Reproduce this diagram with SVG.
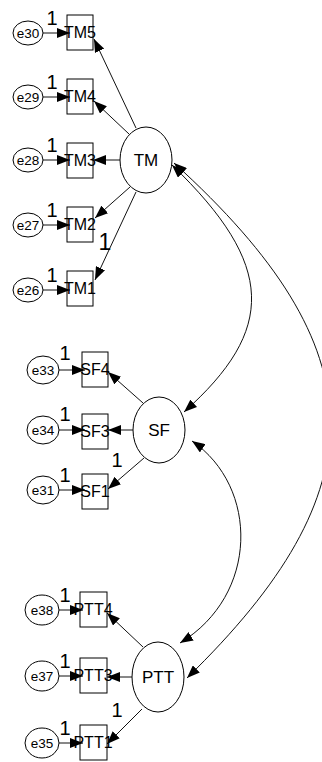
<svg xmlns="http://www.w3.org/2000/svg" width="322" height="762" viewBox="0 0 322 762">
  <style>
    .lat { fill: #fff; stroke: #000; stroke-width: 1; }
    .err { fill: #fff; stroke: #000; stroke-width: 1; }
    .box { fill: #fff; stroke: #000; stroke-width: 1; }
    .t { font-family: "Liberation Sans", Arial, sans-serif; fill: #000; text-anchor: middle; }
    .tl { font-size: 17px; }
    .ti { font-size: 16px; }
    .te { font-size: 13.5px; }
    .one { font-family: "Liberation Sans", Arial, sans-serif; font-size: 20px; fill: #000; text-anchor: middle; }
    .c { fill: none; stroke: #111; stroke-width: 1; }
  </style>
  <defs>
    <marker id="ah" viewBox="0 0 13 10" refX="13" refY="5" markerWidth="13" markerHeight="10" markerUnits="userSpaceOnUse" orient="auto-start-reverse">
      <path d="M0,0 L13,5 L0,10 z" fill="#000"/>
    </marker>
  </defs>
  <rect width="322" height="762" fill="#fff"/>

  <!-- TM block -->
  <g id="TM"><ellipse class="lat" cx="146" cy="160" rx="26" ry="33"/><text class="t tl" x="146" y="166">TM</text></g>
  <g id="TM5"><rect class="box" x="67" y="15" width="26" height="35"/><text class="t ti" x="80" y="38">TM5</text></g>
  <g id="TM4"><rect class="box" x="67" y="79" width="26" height="35"/><text class="t ti" x="80" y="102">TM4</text></g>
  <g id="TM3"><rect class="box" x="67" y="143" width="26" height="35"/><text class="t ti" x="80" y="166">TM3</text></g>
  <g id="TM2"><rect class="box" x="67" y="207" width="26" height="35"/><text class="t ti" x="80" y="230">TM2</text></g>
  <g id="TM1"><rect class="box" x="67" y="271" width="26" height="35"/><text class="t ti" x="80" y="294">TM1</text></g>
  <g id="e30"><ellipse class="err" cx="28" cy="33" rx="15" ry="12"/><text class="t te" x="28" y="38">e30</text></g>
  <g id="e29"><ellipse class="err" cx="28" cy="97" rx="15" ry="12"/><text class="t te" x="28" y="102">e29</text></g>
  <g id="e28"><ellipse class="err" cx="28" cy="160" rx="15" ry="12"/><text class="t te" x="28" y="165">e28</text></g>
  <g id="e27"><ellipse class="err" cx="28" cy="225" rx="15" ry="12"/><text class="t te" x="28" y="230">e27</text></g>
  <g id="e26"><ellipse class="err" cx="28" cy="290" rx="15" ry="12"/><text class="t te" x="28" y="295">e26</text></g>

  <!-- SF block -->
  <g id="SF"><ellipse class="lat" cx="159" cy="430" rx="26" ry="33"/><text class="t tl" x="159" y="436">SF</text></g>
  <g id="SF4"><rect class="box" x="82" y="352" width="26" height="35"/><text class="t ti" x="95" y="375">SF4</text></g>
  <g id="SF3"><rect class="box" x="82" y="414" width="26" height="35"/><text class="t ti" x="95" y="437">SF3</text></g>
  <g id="SF1"><rect class="box" x="82" y="474" width="26" height="35"/><text class="t ti" x="95" y="497">SF1</text></g>
  <g id="e33"><ellipse class="err" cx="43" cy="370" rx="16" ry="14"/><text class="t te" x="43" y="375">e33</text></g>
  <g id="e34"><ellipse class="err" cx="43" cy="430" rx="16" ry="14"/><text class="t te" x="43" y="435">e34</text></g>
  <g id="e31"><ellipse class="err" cx="43" cy="490" rx="16" ry="14"/><text class="t te" x="43" y="495">e31</text></g>

  <!-- PTT block -->
  <g id="PTT"><ellipse class="lat" cx="158" cy="677" rx="26" ry="35"/><text class="t tl" x="158" y="683">PTT</text></g>
  <g id="PTT4"><rect class="box" x="80" y="592" width="27" height="35"/><text class="t ti" x="93" y="615">PTT4</text></g>
  <g id="PTT3"><rect class="box" x="80" y="658" width="27" height="35"/><text class="t ti" x="93" y="681">PTT3</text></g>
  <g id="PTT1"><rect class="box" x="80" y="725" width="27" height="35"/><text class="t ti" x="93" y="748">PTT1</text></g>
  <g id="e38"><ellipse class="err" cx="42" cy="610" rx="17" ry="15"/><text class="t te" x="42" y="615">e38</text></g>
  <g id="e37"><ellipse class="err" cx="42" cy="676" rx="17" ry="15"/><text class="t te" x="42" y="681">e37</text></g>
  <g id="e35"><ellipse class="err" cx="42" cy="743" rx="17" ry="15"/><text class="t te" x="42" y="748">e35</text></g>

  <g id="connectors">
    <!-- error terms -->
    <line class="c" x1="43" y1="33" x2="70" y2="33" marker-end="url(#ah)"/>
    <line class="c" x1="43" y1="97" x2="70" y2="97" marker-end="url(#ah)"/>
    <line class="c" x1="43" y1="160" x2="70" y2="160" marker-end="url(#ah)"/>
    <line class="c" x1="43" y1="225" x2="70" y2="225" marker-end="url(#ah)"/>
    <line class="c" x1="43" y1="290" x2="70" y2="290" marker-end="url(#ah)"/>
    <line class="c" x1="59" y1="370" x2="85" y2="370" marker-end="url(#ah)"/>
    <line class="c" x1="59" y1="430" x2="85" y2="430" marker-end="url(#ah)"/>
    <line class="c" x1="59" y1="490" x2="85" y2="490" marker-end="url(#ah)"/>
    <line class="c" x1="59" y1="610" x2="83" y2="610" marker-end="url(#ah)"/>
    <line class="c" x1="59" y1="676" x2="83" y2="676" marker-end="url(#ah)"/>
    <line class="c" x1="59" y1="743" x2="83" y2="743" marker-end="url(#ah)"/>
    <!-- loadings -->
    <line class="c" x1="136" y1="128" x2="94" y2="39" marker-end="url(#ah)"/>
    <line class="c" x1="129" y1="134" x2="94" y2="101" marker-end="url(#ah)"/>
    <line class="c" x1="120" y1="160" x2="93" y2="160" marker-end="url(#ah)"/>
    <line class="c" x1="130" y1="187" x2="95" y2="218" marker-end="url(#ah)"/>
    <line class="c" x1="136" y1="192" x2="95" y2="280" marker-end="url(#ah)"/>
    <line class="c" x1="143" y1="403" x2="108" y2="372" marker-end="url(#ah)"/>
    <line class="c" x1="133" y1="430" x2="108" y2="430" marker-end="url(#ah)"/>
    <line class="c" x1="144" y1="458" x2="108" y2="489" marker-end="url(#ah)"/>
    <line class="c" x1="143" y1="647" x2="107" y2="613" marker-end="url(#ah)"/>
    <line class="c" x1="132" y1="677" x2="107" y2="677" marker-end="url(#ah)"/>
    <line class="c" x1="142" y1="709" x2="107" y2="744" marker-end="url(#ah)"/>
    <!-- covariances -->
    <path class="c" d="M172,165 C276,265 276,330 184,412" marker-start="url(#ah)" marker-end="url(#ah)"/>
    <path class="c" d="M174,163 C380,350 380,490 187,678" marker-start="url(#ah)" marker-end="url(#ah)"/>
    <path class="c" d="M192,441 C259,487 259,595 180,643" marker-start="url(#ah)" marker-end="url(#ah)"/>
  </g>

  <!-- fixed parameter labels -->
  <g id="labels">
    <text class="one" x="52" y="25">1</text>
    <text class="one" x="52" y="89">1</text>
    <text class="one" x="52" y="152">1</text>
    <text class="one" x="52" y="217">1</text>
    <text class="one" x="52" y="282">1</text>
    <text class="one" x="105" y="250" style="font-size:23px">1</text>
    <text class="one" x="65" y="360">1</text>
    <text class="one" x="65" y="421">1</text>
    <text class="one" x="65" y="482">1</text>
    <text class="one" x="117" y="467">1</text>
    <text class="one" x="65" y="602">1</text>
    <text class="one" x="65" y="668">1</text>
    <text class="one" x="65" y="735">1</text>
    <text class="one" x="117" y="717">1</text>
  </g>
</svg>
